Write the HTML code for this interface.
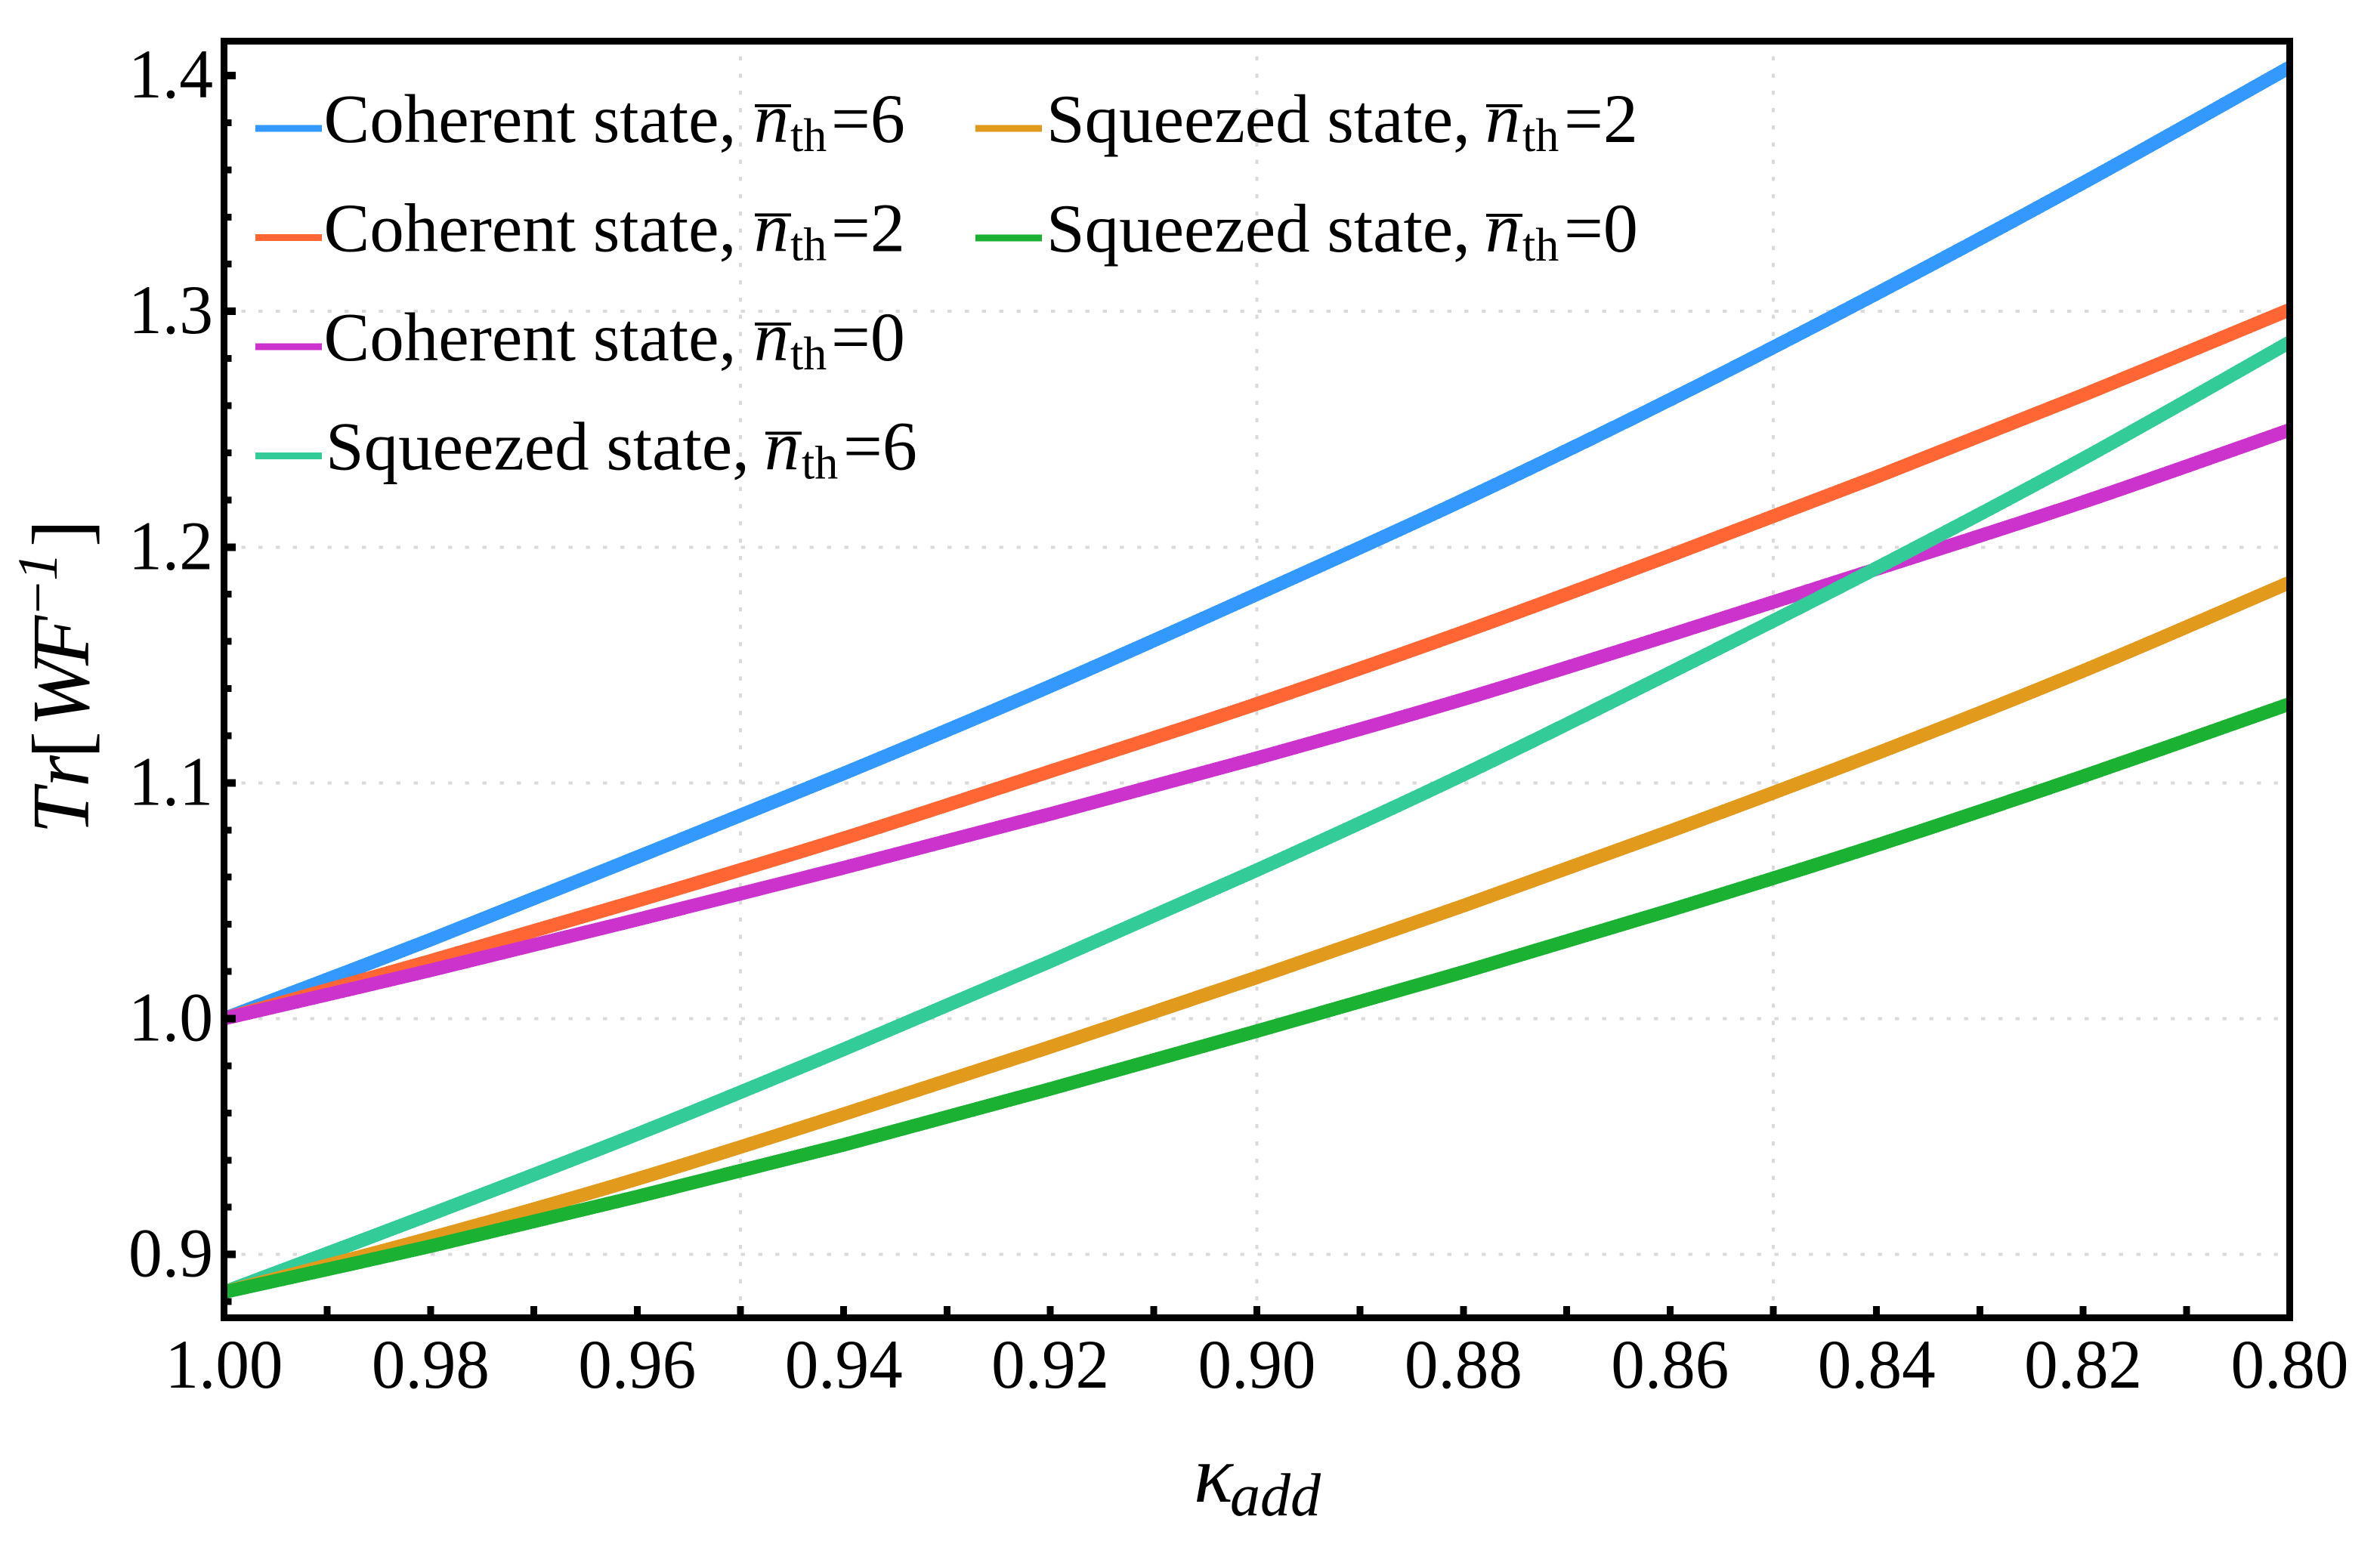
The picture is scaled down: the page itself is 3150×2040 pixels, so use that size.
<!DOCTYPE html>
<html lang="en">
<head>
<meta charset="utf-8">
<title>Tr[WF^-1] versus kappa_add</title>
<style>
  html, body { margin: 0; padding: 0; background: #ffffff; }
  svg { display: block; }
  text { font-family: "Liberation Serif", "DejaVu Serif", serif; fill: #000000; }
  .tick-label, .legend-text { font-size: 92px; }
  .words { font-size: 91px; }
  .it { font-style: italic; }
  .sub { font-size: 62px; }
  .frame, .tick { stroke: #000000; fill: none; }
  .frame { stroke-width: 9; }
  .grid { stroke: #dadada; stroke-width: 4; stroke-dasharray: 5.5 17.3; fill: none; }
  .series { fill: none; stroke-width: 18; stroke-linejoin: round; }
  .legend-line { stroke-width: 9; fill: none; }
  .legend-bar { stroke: #000000; stroke-width: 4; }
  .c-coh6 { stroke: #3399ff; }
  .c-coh2 { stroke: #ff6633; }
  .c-coh0 { stroke: #cc33cc; }
  .c-sq6 { stroke: #33cc99; }
  .c-sq2 { stroke: #e29a1c; }
  .c-sq0 { stroke: #1bb233; }
</style>
</head>
<body>
<svg id="chart" xmlns="http://www.w3.org/2000/svg" width="3150" height="2040" viewBox="0 0 3150 2040">
  <rect x="0" y="0" width="3150" height="2040" fill="#ffffff"/>
  <defs>
    <clipPath id="plot-clip"><rect x="296.5" y="54.5" width="2734" height="1690"/></clipPath>
  </defs>
  <g id="grid-layer"></g>
  <g id="series-layer" clip-path="url(#plot-clip)"></g>
  <g id="axis-layer"></g>

  <g transform="translate(117,0) rotate(-90)">
    <text font-size="108"><tspan class="it" x="-1104" y="0">T</tspan><tspan class="it" x="-1042" y="0">r</tspan><tspan x="-1004" y="0">[</tspan><tspan class="it" x="-962" y="0">W</tspan><tspan class="it" x="-881" y="0">F</tspan><tspan class="it" font-size="75" x="-817" y="-42">−</tspan><tspan class="it" font-size="75" x="-769" y="-42">1</tspan><tspan x="-724" y="0">]</tspan></text>
  </g>

  <text><tspan class="it" font-size="108" x="1580" y="1988">κ</tspan><tspan class="it" font-size="80" x="1628" y="2006">add</tspan></text>

  <g>
    <g>
      <line class="legend-line c-coh6" x1="338" x2="426" y1="170" y2="170"/>
      <text class="legend-text" y="188"><tspan class="words" x="428.5">Coherent state,</tspan><tspan class="it" x="998">n</tspan><tspan class="sub" x="1046" y="200">th</tspan><tspan x="1100" y="188">=6</tspan></text>
      <line class="legend-bar" x1="999" x2="1047" y1="140" y2="140"/>
    </g>
    <g>
      <line class="legend-line c-coh2" x1="338" x2="426" y1="314.5" y2="314.5"/>
      <text class="legend-text" y="332.5"><tspan class="words" x="428.5">Coherent state,</tspan><tspan class="it" x="998">n</tspan><tspan class="sub" x="1046" y="344.5">th</tspan><tspan x="1100" y="332.5">=2</tspan></text>
      <line class="legend-bar" x1="999" x2="1047" y1="284.5" y2="284.5"/>
    </g>
    <g>
      <line class="legend-line c-coh0" x1="338" x2="426" y1="459" y2="459"/>
      <text class="legend-text" y="477"><tspan class="words" x="428.5">Coherent state,</tspan><tspan class="it" x="998">n</tspan><tspan class="sub" x="1046" y="489">th</tspan><tspan x="1100" y="477">=0</tspan></text>
      <line class="legend-bar" x1="999" x2="1047" y1="429" y2="429"/>
    </g>
    <g>
      <line class="legend-line c-sq6" x1="338" x2="426" y1="603.5" y2="603.5"/>
      <text class="legend-text" y="621.5"><tspan class="words" x="431">Squeezed state,</tspan><tspan class="it" x="1012">n</tspan><tspan class="sub" x="1061" y="633.5">th</tspan><tspan x="1116" y="621.5">=6</tspan></text>
      <line class="legend-bar" x1="1013" x2="1061" y1="573.5" y2="573.5"/>
    </g>
    <g>
      <line class="legend-line c-sq2" x1="1291" x2="1379" y1="170" y2="170"/>
      <text class="legend-text" y="188"><tspan class="words" x="1385">Squeezed state,</tspan><tspan class="it" x="1966">n</tspan><tspan class="sub" x="2015" y="200">th</tspan><tspan x="2070" y="188">=2</tspan></text>
      <line class="legend-bar" x1="1967" x2="2015" y1="140" y2="140"/>
    </g>
    <g>
      <line class="legend-line c-sq0" x1="1291" x2="1379" y1="315" y2="315"/>
      <text class="legend-text" y="333"><tspan class="words" x="1385">Squeezed state,</tspan><tspan class="it" x="1966">n</tspan><tspan class="sub" x="2015" y="345">th</tspan><tspan x="2070" y="333">=0</tspan></text>
      <line class="legend-bar" x1="1967" x2="2015" y1="285" y2="285"/>
    </g>
  </g>
</svg>

<script>
// Chart data
const kappaValues = [1.00, 0.98, 0.96, 0.94, 0.92, 0.90, 0.88, 0.86, 0.84, 0.82, 0.80];
const coherentN6 = [1.000, 1.0335, 1.0685, 1.104, 1.141, 1.180, 1.220, 1.2625, 1.3075, 1.3545, 1.4035];
const coherentN2 = [1.000, 1.0245, 1.050, 1.0765, 1.1049, 1.1335, 1.164, 1.1964, 1.2298, 1.2645, 1.3007];
const coherentN0 = [1.000, 1.0205, 1.042, 1.0640, 1.0868, 1.1105, 1.1355, 1.1627, 1.1907, 1.2191, 1.2497];
const squeezedN6 = [0.884, 0.917, 0.951, 0.987, 1.0243, 1.063, 1.1035, 1.1467, 1.1911, 1.2375, 1.2869];
const squeezedN2 = [0.884, 0.907, 0.932, 0.9595, 0.988, 1.0175, 1.0479, 1.0795, 1.1125, 1.1475, 1.185];
const squeezedN0 = [0.884, 0.9035, 0.9245, 0.9465, 0.9702, 0.9947, 1.0198, 1.046, 1.0735, 1.1028, 1.1335];

const xTickLabels = ['1.00', '0.98', '0.96', '0.94', '0.92', '0.90', '0.88', '0.86', '0.84', '0.82', '0.80'];
const xMinorTicks = [0.99, 0.97, 0.95, 0.93, 0.91, 0.89, 0.87, 0.85, 0.83, 0.81];
const yTickLabels = ['0.9', '1.0', '1.1', '1.2', '1.3', '1.4'];
const yMinorTicks = [0.88, 0.92, 0.94, 0.96, 0.98, 1.02, 1.04, 1.06, 1.08, 1.12, 1.14, 1.16, 1.18, 1.22, 1.24, 1.26, 1.28, 1.32, 1.34, 1.36, 1.38];
const xGridValues = [0.95, 0.90, 0.85];
const yGridValues = [0.9, 1.0, 1.1, 1.2, 1.3];

// Axis functions
const plotLeft = 296.5, plotRight = 3030.5, plotTop = 54.5, plotBottom = 1744.5;
const xDomainStart = 1.0, xDomainEnd = 0.8;
const yRefLow = 1.0, yRefHigh = 1.4, yRefLowPx = 1348.5, yRefHighPx = 100;

function xScale(k) {
  return plotLeft + (k - xDomainStart) / (xDomainEnd - xDomainStart) * (plotRight - plotLeft);
}
function yScale(v) {
  return yRefLowPx + (v - yRefLow) / (yRefHigh - yRefLow) * (yRefHighPx - yRefLowPx);
}

const NS = 'http://www.w3.org/2000/svg';
function make(tag, parent, attrs) {
  const node = document.createElementNS(NS, tag);
  for (const key in attrs) node.setAttribute(key, attrs[key]);
  parent.appendChild(node);
  return node;
}

// Smooth path through the points (Catmull-Rom to cubic Bezier)
function curvePath(xs, ys) {
  const pts = xs.map((k, i) => [xScale(k), yScale(ys[i])]);
  let d = 'M' + pts[0][0].toFixed(2) + ' ' + pts[0][1].toFixed(2);
  for (let i = 0; i < pts.length - 1; i++) {
    const p0 = pts[Math.max(0, i - 1)];
    const p1 = pts[i];
    const p2 = pts[i + 1];
    const p3 = pts[Math.min(pts.length - 1, i + 2)];
    const c1x = p1[0] + (p2[0] - p0[0]) / 6;
    const c1y = p1[1] + (p2[1] - p0[1]) / 6;
    const c2x = p2[0] - (p3[0] - p1[0]) / 6;
    const c2y = p2[1] - (p3[1] - p1[1]) / 6;
    d += ' C' + c1x.toFixed(2) + ' ' + c1y.toFixed(2) + ' ' + c2x.toFixed(2) + ' ' + c2y.toFixed(2) + ' ' + p2[0].toFixed(2) + ' ' + p2[1].toFixed(2);
  }
  return d;
}

const gridLayer = document.getElementById('grid-layer');
const seriesLayer = document.getElementById('series-layer');
const axisLayer = document.getElementById('axis-layer');

// Grid
yGridValues.forEach(function (v) {
  const el = make('line', gridLayer, { class: 'grid', x1: plotLeft, x2: plotRight, y1: yScale(v), y2: yScale(v), 'shape-rendering': 'crispEdges' });
  
  
});
xGridValues.forEach(function (k) {
  const el = make('line', gridLayer, { class: 'grid', x1: xScale(k), x2: xScale(k), y1: plotBottom, y2: plotTop, 'shape-rendering': 'crispEdges' });
  
  
});

// Series
function drawSeries(values, colorClass, name) {
  const el = make('path', seriesLayer, { class: 'series ' + colorClass, d: curvePath(kappaValues, values), 'shape-rendering': 'crispEdges' });
  
  
}
drawSeries(coherentN6, 'c-coh6', 'line-coherent-6');
drawSeries(coherentN2, 'c-coh2', 'line-coherent-2');
drawSeries(coherentN0, 'c-coh0', 'line-coherent-0');
drawSeries(squeezedN6, 'c-sq6', 'line-squeezed-6');
drawSeries(squeezedN2, 'c-sq2', 'line-squeezed-2');
drawSeries(squeezedN0, 'c-sq0', 'line-squeezed-0');

// Ticks
function yTick(v, length, thickness, name) {
  const el = make('line', axisLayer, { class: 'tick', x1: plotLeft, x2: plotLeft + 4.5 + length, y1: yScale(v), y2: yScale(v), 'stroke-width': thickness, 'shape-rendering': 'crispEdges' });
  
  
}
function xTick(k, name) {
  const el = make('line', axisLayer, { class: 'tick', x1: xScale(k), x2: xScale(k), y1: plotBottom, y2: plotBottom - 4.5 - 11, 'stroke-width': 9, 'shape-rendering': 'crispEdges' });
  
  
}
yMinorTicks.forEach(function (v) { yTick(v, 5.5, 9, 'y-minor-tick'); });
yTickLabels.forEach(function (label) {
  const v = parseFloat(label);
  yTick(v, 11, 10, 'y-major-tick');
  const t = make('text', axisLayer, { class: 'tick-label', x: 282, y: yScale(v) + 29, 'text-anchor': 'end', textLength: 112, lengthAdjust: 'spacingAndGlyphs' });
  
  
  t.textContent = label;
});
xMinorTicks.forEach(function (k) { xTick(k, 'x-minor-tick'); });
xTickLabels.forEach(function (label) {
  const k = parseFloat(label);
  xTick(k, 'x-major-tick');
  const t = make('text', axisLayer, { class: 'tick-label', x: xScale(k), y: 1837, 'text-anchor': 'middle', textLength: 156, lengthAdjust: 'spacingAndGlyphs' });
  
  
  t.textContent = label;
});

// Frame on top of series
const frame = make('rect', axisLayer, { class: 'frame', x: plotLeft, y: plotTop, width: plotRight - plotLeft, height: plotBottom - plotTop, 'shape-rendering': 'crispEdges' });


</script>
</body>
</html>
